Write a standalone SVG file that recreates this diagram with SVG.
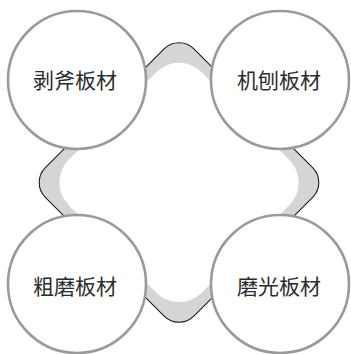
<svg xmlns="http://www.w3.org/2000/svg" width="351" height="354" viewBox="0 0 351 354">
<style>
.node circle{fill:#fff;stroke:#999a9c;stroke-width:2.6}
.node text{font-family:"Noto Sans CJK SC","Noto Sans",sans-serif;font-size:21px;fill:#2b2b2b;text-anchor:middle;dominant-baseline:central}
</style>
<rect width="351" height="354" fill="#fff"/>
<g id="connectors">
<g transform="translate(179 182.5) rotate(45)">
<rect x="-105" y="-105" width="210" height="210" rx="21" fill="#d4d5d7" stroke="#1a1a1a" stroke-width="1.1"/>
<rect x="-94" y="-94" width="188" height="188" rx="32" fill="#fff"/>
</g>
</g>
<g id="n1" class="node"><circle cx="77" cy="80" r="69"/><text x="75" y="79">剥斧板材</text></g>
<g id="n2" class="node"><circle cx="280" cy="80" r="69"/><text x="279" y="79">机刨板材</text></g>
<g id="n3" class="node"><circle cx="77" cy="284" r="69"/><text x="75" y="285">粗磨板材</text></g>
<g id="n4" class="node"><circle cx="280" cy="284" r="69"/><text x="279" y="285">磨光板材</text></g>
</svg>
